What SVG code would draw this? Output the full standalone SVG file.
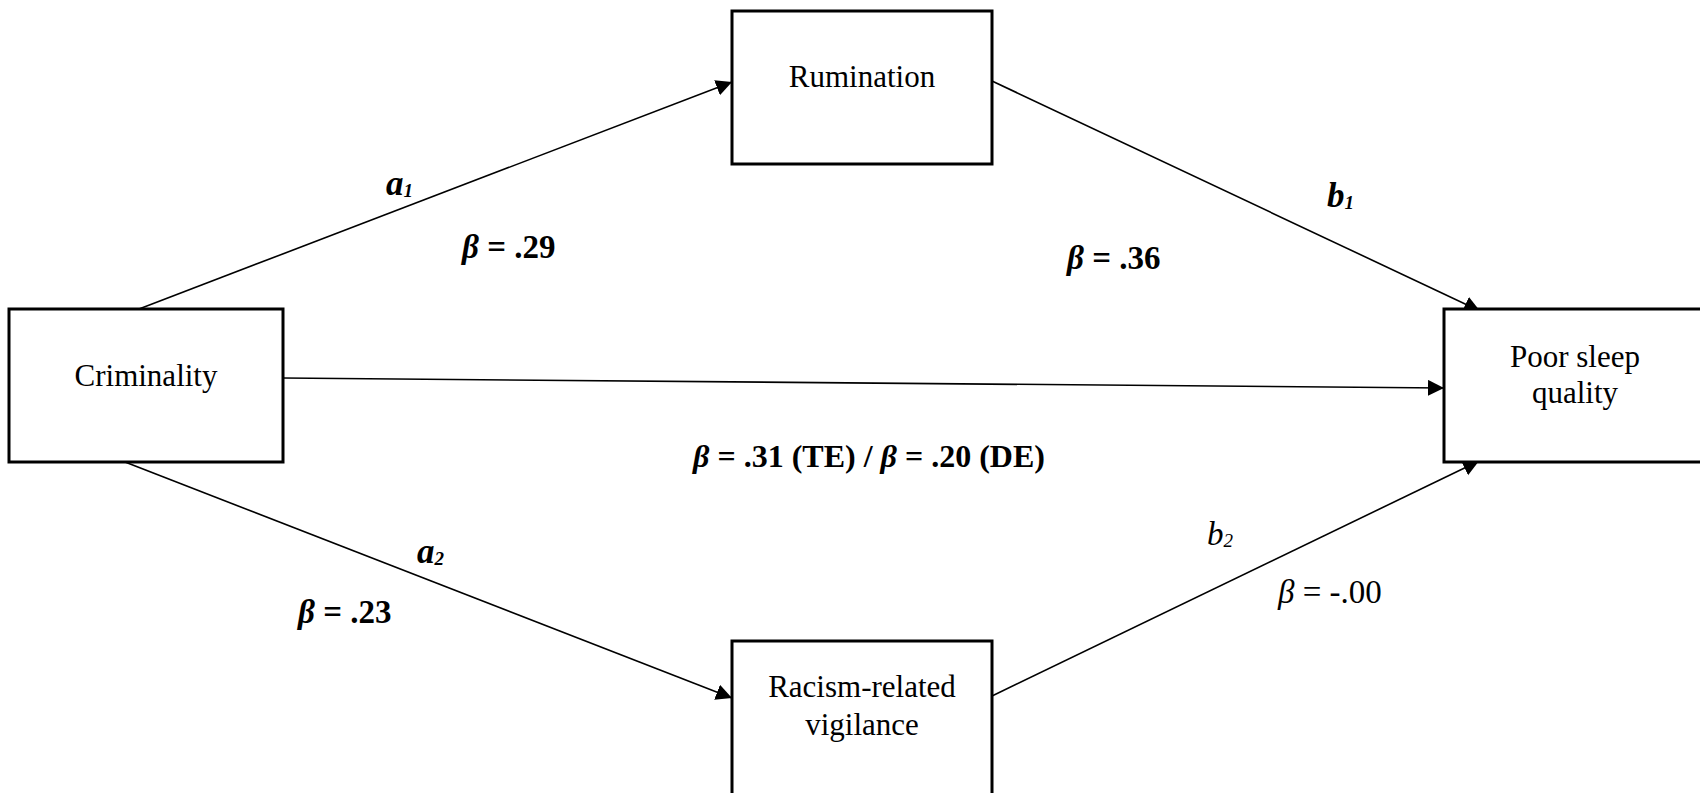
<svg xmlns="http://www.w3.org/2000/svg" width="1700" height="793" viewBox="0 0 1700 793">
  <style>
    .box { fill: #ffffff; stroke: #000000; stroke-width: 3; }
    .node-text { font-family: "Liberation Serif", "Times New Roman", serif; font-size: 31px; fill: #000000; text-anchor: middle; }
    .edge { stroke: #000000; stroke-width: 1.6; fill: none; marker-end: url(#arrow); }
    .lbl { font-family: "Liberation Serif", "Times New Roman", serif; font-size: 33px; fill: #000000; }
    .wide { font-size: 32px; }
    .bold { font-weight: bold; }
    .it { font-style: italic; }
    .big { font-size: 35px; }
    .sub { font-size: 19px; }
  </style>
  <defs>
    <marker id="arrow" markerUnits="userSpaceOnUse" markerWidth="17" markerHeight="17" refX="16" refY="8" orient="auto">
      <path d="M0,0 L16,8 L0,16 z" fill="#000000"/>
    </marker>
  </defs>
  <rect width="1700" height="793" fill="#ffffff"/>

  <!-- paths between the variables (drawn first so the boxes sit on top) -->
  <g id="connectors">
    <line class="edge" x1="139" y1="309" x2="732" y2="82"/>
    <line class="edge" x1="992" y1="81" x2="1480" y2="311"/>
    <line class="edge" x1="283" y1="378" x2="1444" y2="388"/>
    <line class="edge" x1="125" y1="462" x2="732" y2="698"/>
    <line class="edge" x1="992" y1="696" x2="1479" y2="461"/>
  </g>

  <g id="node-rumination">
    <rect class="box" x="732" y="11" width="260" height="153"/>
    <text class="node-text" x="862" y="87">Rumination</text>
  </g>

  <g id="node-criminality">
    <rect class="box" x="9" y="309" width="274" height="153"/>
    <text class="node-text" x="146" y="386">Criminality</text>
  </g>

  <g id="node-sleep">
    <rect class="box" x="1444" y="309" width="264" height="153"/>
    <text class="node-text" x="1575" y="367">Poor sleep</text>
    <text class="node-text" x="1575" y="403">quality</text>
  </g>

  <g id="node-vigilance">
    <rect class="box" x="732" y="641" width="260" height="160"/>
    <text class="node-text" x="862" y="697">Racism-related</text>
    <text class="node-text" x="862" y="735">vigilance</text>
  </g>

  <!-- path coefficients -->
  <g id="labels">
    <text class="lbl big bold it" x="386" y="195">a<tspan class="sub" dy="2">1</tspan></text>
    <text class="lbl bold" x="462" y="258"><tspan class="it">β</tspan> = .29</text>

    <text class="lbl big bold it" x="1327" y="207">b<tspan class="sub" dy="2">1</tspan></text>
    <text class="lbl bold" x="1067" y="269"><tspan class="it">β</tspan> = .36</text>

    <text class="lbl wide bold" x="693" y="467"><tspan class="it">β</tspan> = .31 (TE) / <tspan class="it">β</tspan> = .20 (DE)</text>

    <text class="lbl big bold it" x="417" y="563">a<tspan class="sub" dy="2">2</tspan></text>
    <text class="lbl bold" x="298" y="623"><tspan class="it">β</tspan> = .23</text>

    <text class="lbl it" x="1207" y="545">b<tspan class="sub" dy="2">2</tspan></text>
    <text class="lbl" x="1278" y="603"><tspan class="it">β</tspan> = -.00</text>
  </g>
</svg>
